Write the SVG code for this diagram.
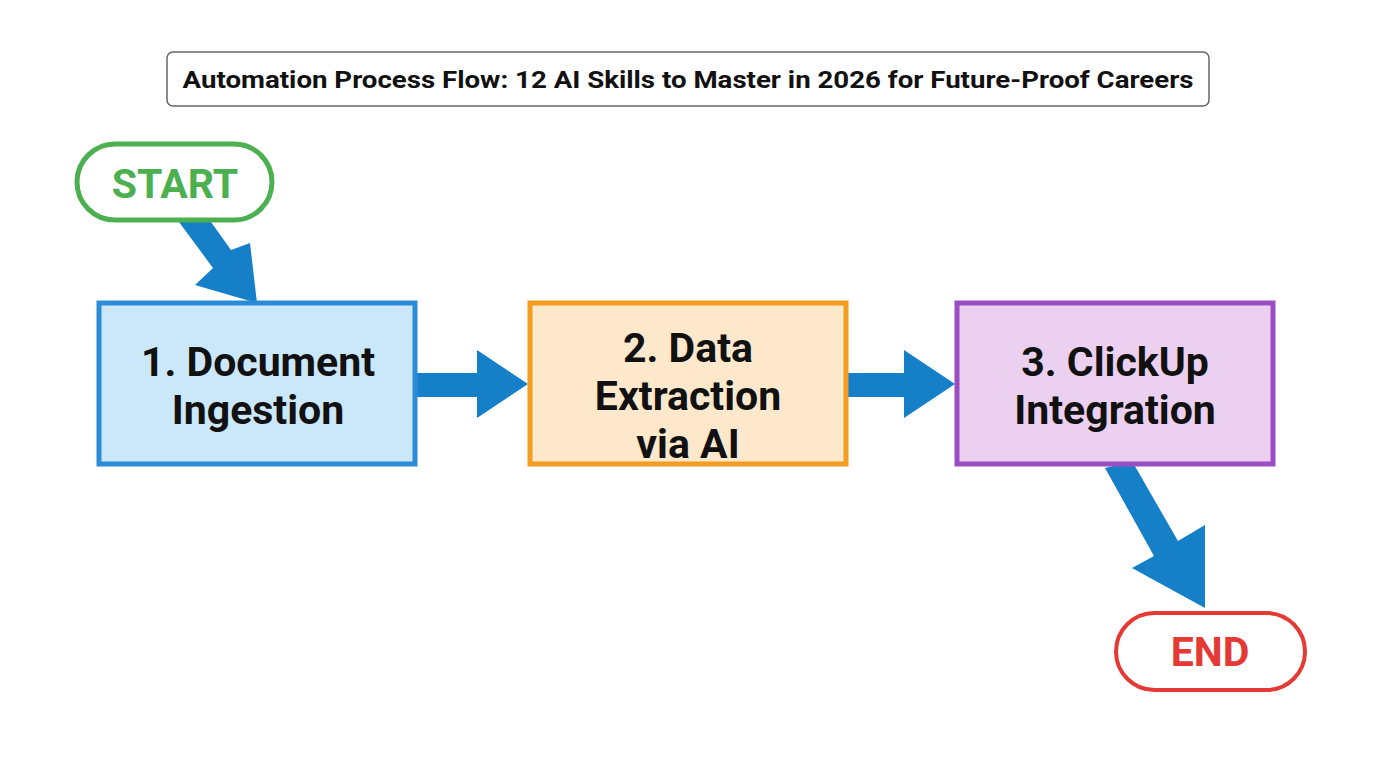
<svg xmlns="http://www.w3.org/2000/svg" width="1376" height="768" viewBox="0 0 1376 768">
<style>
.t{font-family:Roboto,"Liberation Sans",sans-serif;font-weight:bold;text-anchor:middle}
.box{stroke-width:5}
.arr{fill:#1580C8}
</style>
<rect width="1376" height="768" fill="#FFFFFF"/>
<g id="title">
<rect x="167" y="52" width="1042" height="54" rx="6" fill="#FFFFFF" stroke="#666666" stroke-width="1.5"/>
<text class="t" x="688" y="88" font-size="24" fill="#111111" textLength="1011" lengthAdjust="spacingAndGlyphs">Automation Process Flow: 12 AI Skills to Master in 2026 for Future-Proof Careers</text>
</g>
<g id="connectors">
<polygon class="arr" points="179,222 201,208 231,250 250,243 257,303 195,285 213,268"/>
<polygon class="arr" points="414,373 477,373 477,350 528,384 477,418 477,397 414,397"/>
<polygon class="arr" points="846,373 904,373 904,350 955,384 904,418 904,397 846,397"/>
<polygon class="arr" points="1105,468 1132,461 1178,541 1205,525 1205,608 1132,568 1154,556"/>
</g>
<g id="start">
<rect x="77" y="144" width="195" height="76" rx="38" fill="#FFFFFF" stroke="#4CAF50" stroke-width="5"/>
<text class="t" x="175" y="198" font-size="41" fill="#4CAF50">START</text>
</g>
<g id="step1">
<rect class="box" x="99" y="303" width="316" height="161" fill="#CBE7FA" stroke="#2B8BD6"/>
<text class="t" x="258" y="376" font-size="41" fill="#111111">1. Document</text>
<text class="t" x="258" y="424" font-size="41" fill="#111111">Ingestion</text>
</g>
<g id="step2">
<rect class="box" x="530" y="303" width="316" height="161" fill="#FDE8CC" stroke="#F39C1F"/>
<text class="t" x="688" y="362" font-size="41" fill="#111111">2. Data</text>
<text class="t" x="688" y="410" font-size="41" fill="#111111">Extraction</text>
<text class="t" x="688" y="458" font-size="41" fill="#111111">via AI</text>
</g>
<g id="step3">
<rect class="box" x="957" y="303" width="316" height="161" fill="#EBD0F0" stroke="#9B4DC4"/>
<text class="t" x="1115" y="376" font-size="41" fill="#111111">3. ClickUp</text>
<text class="t" x="1115" y="424" font-size="41" fill="#111111">Integration</text>
</g>
<g id="end">
<rect x="1116" y="613" width="189" height="77" rx="38.5" fill="#FFFFFF" stroke="#E53935" stroke-width="4"/>
<text class="t" x="1210" y="666" font-size="41" fill="#E53935">END</text>
</g>
</svg>
